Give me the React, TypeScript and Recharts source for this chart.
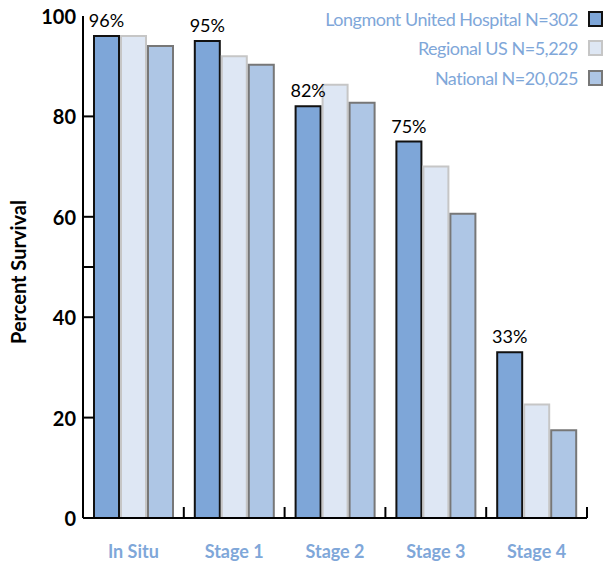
import { BarChart, Bar, XAxis, YAxis, Legend, LabelList } from "recharts";

const categories = ["In Situ", "Stage 1", "Stage 2", "Stage 3", "Stage 4"];
const longmont = [96, 95, 82, 75, 33];
const regional = [96, 92, 86.3, 70, 22.6];
const national = [94, 90.3, 82.7, 60.6, 17.5];
const yTicks = [0, 20, 40, 50, 60, 80, 100];
const yTickMarks = [20, 40, 50, 60, 80];

const series = [
  { key: "longmont", name: "Longmont United Hospital N=302", fill: "#7ea6d8", stroke: "#111111" },
  { key: "regional", name: "Regional US N=5,229", fill: "#dee7f4", stroke: "#c6c6c6" },
  { key: "national", name: "National N=20,025", fill: "#aec6e5", stroke: "#777777" },
];

const data = categories.map((c, i) => ({
  name: c,
  longmont: longmont[i],
  regional: regional[i],
  national: national[i],
}));

const W = 603;
const H = 562;
const margin = { top: 16, right: 16, bottom: 0, left: 0 };
const yAxisWidth = 83;
const xAxisHeight = 44;
const band = (W - margin.left - margin.right - yAxisWidth) / categories.length;
const blue = "#7fa7d9";
const font = "Lato, 'Open Sans', sans-serif";

function YTick(props: any) {
  const { x, y, payload } = props;
  const v = payload.value;
  return (
    <g>
      {yTickMarks.includes(v) && (
        <line x1={x} x2={x + 11} y1={y} y2={y} stroke="#000" strokeWidth={2} />
      )}
      {v !== 50 && (
        <text x={x - 7} y={y} textAnchor="end" dominantBaseline="central"
          fontFamily={font} fontWeight={700} fontSize={20} fill="#000">
          {v}
        </text>
      )}
    </g>
  );
}

function XTick(props: any) {
  const { x, y, payload } = props;
  const bx = x + band / 2;
  return (
    <g>
      <line x1={bx} x2={bx} y1={y} y2={y - 11} stroke="#000" strokeWidth={2} />
      <text x={x} y={y + 33} textAnchor="middle" dominantBaseline="central"
        fontFamily={font} fontWeight={700} fontSize={18} fill={blue}>
        {payload.value}
      </text>
    </g>
  );
}

function YLabel(props: any) {
  const vb = props.viewBox || { x: 0, y: 0, width: 0, height: 0 };
  const cx = vb.x + 18;
  const cy = vb.y + vb.height / 2 + 5;
  return (
    <text x={cx} y={cy} transform={`rotate(-90 ${cx} ${cy})`} textAnchor="middle"
      dominantBaseline="central" fontFamily={font} fontWeight={700} fontSize={20} fill="#000">
      Percent Survival
    </text>
  );
}

function LegendBox() {
  return (
    <div style={{ display: "flex", flexDirection: "column", alignItems: "flex-end" }}>
      {series.map((s) => (
        <div key={s.key} style={{ display: "flex", alignItems: "center", height: 29.5 }}>
          <span style={{ fontFamily: font, fontSize: 18, letterSpacing: -0.5, color: blue, whiteSpace: "nowrap" }}>
            {s.name}
          </span>
          <span style={{
            display: "inline-block", boxSizing: "border-box", width: 15, height: 16,
            marginLeft: 10, background: s.fill, border: `2px solid ${s.stroke}`,
          }} />
        </div>
      ))}
    </div>
  );
}

export default function App() {
  return (
    <div style={{ position: "absolute", left: 0, top: 0, width: W, height: H, background: "#fff" }}>
      <BarChart width={W} height={H} data={data} margin={margin} barCategoryGap={11} barGap={2}>
        <XAxis dataKey="name" height={xAxisHeight} axisLine={{ stroke: "#000", strokeWidth: 2 }}
          tickLine={false} tickSize={0} tickMargin={0} tick={<XTick />} interval={0} />
        <YAxis domain={[0, 100]} ticks={yTicks} width={yAxisWidth} interval={0}
          axisLine={{ stroke: "#000", strokeWidth: 2 }} tickLine={false} tickSize={0}
          tickMargin={0} tick={<YTick />} label={<YLabel />} />
        <Legend layout="vertical" align="center" verticalAlign="middle" content={<LegendBox />}
          wrapperStyle={{ top: 4, left: "auto", right: 0, width: "auto" }} />
        {series.map((s) => (
          <Bar key={s.key} dataKey={s.key} name={s.name} fill={s.fill} stroke={s.stroke}
            strokeWidth={2} isAnimationActive={false}>
            {s.key === "longmont" && (
              <LabelList dataKey="longmont" position="top" offset={9}
                formatter={(v: any) => `${v}%`} fontFamily={font} fontSize={18} fill="#000" />
            )}
          </Bar>
        ))}
      </BarChart>
    </div>
  );
}
